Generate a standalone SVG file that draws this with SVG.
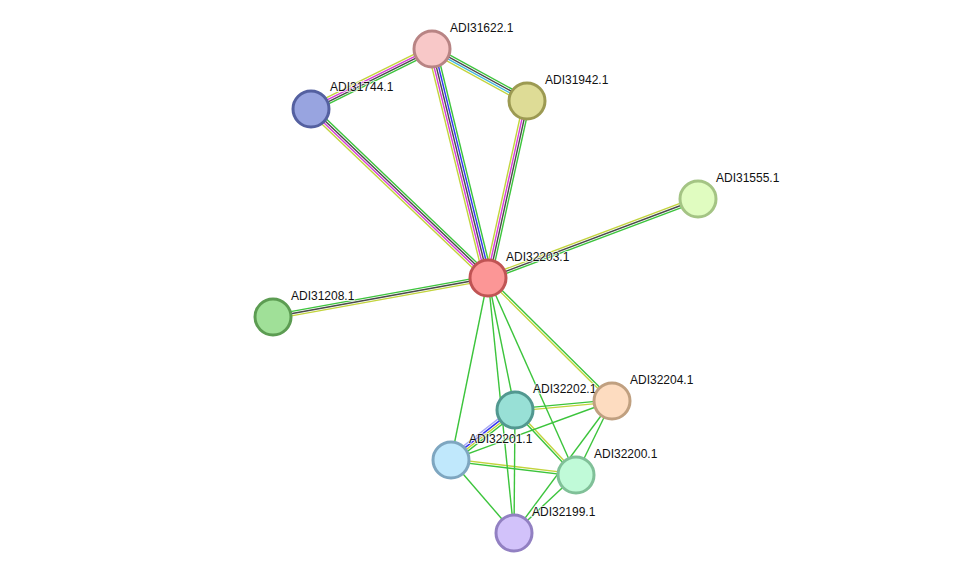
<svg xmlns="http://www.w3.org/2000/svg" width="975" height="579" viewBox="0 0 975 579">
<style>
line{stroke-width:1.4;fill:none}
.g{stroke:#3cc43c}.y{stroke:#c2d43c}.k{stroke:#4a4a4a}.m{stroke:#d63cd6}.b{stroke:#3434f0}.c{stroke:#40b8e0}.l{stroke:#a8a8f4}
circle{stroke-width:3}
text{font-family:"Liberation Sans",Arial,sans-serif;font-size:12px;fill:#111;paint-order:stroke;stroke:#fff;stroke-width:2px;stroke-opacity:0.7}
</style>
<rect width="975" height="579" fill="#fff"/>
<g id="connectors">
 <g transform="translate(488,278) rotate(-103.74)">
  <line class="y" x1="0" y1="-4.4" x2="235.7" y2="-4.4"/>
  <line class="m" x1="0" y1="-2.2" x2="235.7" y2="-2.2"/>
  <line class="k" x1="0" y1="0" x2="235.7" y2="0"/>
  <line class="b" x1="0" y1="2.2" x2="235.7" y2="2.2"/>
  <line class="g" x1="0" y1="4.4" x2="235.7" y2="4.4"/>
 </g>
 <g transform="translate(488,278) rotate(-77.57)">
  <line class="y" x1="0" y1="-3.3" x2="181.2" y2="-3.3"/>
  <line class="m" x1="0" y1="-1.1" x2="181.2" y2="-1.1"/>
  <line class="k" x1="0" y1="1.1" x2="181.2" y2="1.1"/>
  <line class="g" x1="0" y1="3.3" x2="181.2" y2="3.3"/>
 </g>
 <g transform="translate(488,278) rotate(-136.32)">
  <line class="y" x1="0" y1="-3.3" x2="244.7" y2="-3.3"/>
  <line class="m" x1="0" y1="-1.1" x2="244.7" y2="-1.1"/>
  <line class="k" x1="0" y1="1.1" x2="244.7" y2="1.1"/>
  <line class="g" x1="0" y1="3.3" x2="244.7" y2="3.3"/>
 </g>
 <g transform="translate(488,278) rotate(-20.62)">
  <line class="y" x1="0" y1="-2.2" x2="224.4" y2="-2.2"/>
  <line class="k" x1="0" y1="0" x2="224.4" y2="0"/>
  <line class="g" x1="0" y1="2.2" x2="224.4" y2="2.2"/>
 </g>
 <g transform="translate(488,278) rotate(169.72)">
  <line class="y" x1="0" y1="-2.2" x2="218.5" y2="-2.2"/>
  <line class="k" x1="0" y1="0" x2="218.5" y2="0"/>
  <line class="g" x1="0" y1="2.2" x2="218.5" y2="2.2"/>
 </g>
 <g transform="translate(432,49) rotate(153.62)">
  <line class="g" x1="0" y1="-3.3" x2="135.1" y2="-3.3"/>
  <line class="k" x1="0" y1="-1.1" x2="135.1" y2="-1.1"/>
  <line class="m" x1="0" y1="1.1" x2="135.1" y2="1.1"/>
  <line class="y" x1="0" y1="3.3" x2="135.1" y2="3.3"/>
 </g>
 <g transform="translate(432,49) rotate(28.69)">
  <line class="g" x1="0" y1="-3.3" x2="108.3" y2="-3.3"/>
  <line class="k" x1="0" y1="-1.1" x2="108.3" y2="-1.1"/>
  <line class="c" x1="0" y1="1.1" x2="108.3" y2="1.1"/>
  <line class="y" x1="0" y1="3.3" x2="108.3" y2="3.3"/>
 </g>
 <g transform="translate(488,278) rotate(44.77)">
  <line class="g" x1="0" y1="-1.1" x2="174.7" y2="-1.1"/>
  <line class="y" x1="0" y1="1.1" x2="174.7" y2="1.1"/>
 </g>
 <g transform="translate(515,410) rotate(-5.30)">
  <line class="g" x1="0" y1="-1.1" x2="97.4" y2="-1.1"/>
  <line class="y" x1="0" y1="1.1" x2="97.4" y2="1.1"/>
 </g>
 <g transform="translate(515,410) rotate(142.01)">
  <line class="g" x1="0" y1="-3.3" x2="81.2" y2="-3.3"/>
  <line class="y" x1="0" y1="-1.1" x2="81.2" y2="-1.1"/>
  <line class="b" x1="0" y1="1.1" x2="81.2" y2="1.1"/>
  <line class="l" x1="0" y1="3.3" x2="81.2" y2="3.3"/>
 </g>
 <g transform="translate(515,410) rotate(46.82)">
  <line class="y" x1="0" y1="-1.1" x2="89.1" y2="-1.1"/>
  <line class="g" x1="0" y1="1.1" x2="89.1" y2="1.1"/>
 </g>
 <g transform="translate(451,460) rotate(6.84)">
  <line class="y" x1="0" y1="-1.1" x2="125.9" y2="-1.1"/>
  <line class="g" x1="0" y1="1.1" x2="125.9" y2="1.1"/>
 </g>
 <line class="g" x1="488" y1="278" x2="451" y2="460"/>
 <line class="g" x1="488" y1="278" x2="515" y2="410"/>
 <line class="g" x1="488" y1="278" x2="514" y2="533"/>
 <line class="g" x1="488" y1="278" x2="576" y2="475"/>
 <line class="g" x1="515" y1="410" x2="514" y2="533"/>
 <line class="g" x1="451" y1="460" x2="612" y2="401"/>
 <line class="g" x1="451" y1="460" x2="514" y2="533"/>
 <line class="g" x1="612" y1="401" x2="576" y2="475"/>
 <line class="g" x1="612" y1="401" x2="514" y2="533"/>
 <line class="g" x1="576" y1="475" x2="514" y2="533"/>
</g>
<g id="ADI31622.1"><circle cx="432" cy="49" r="18" fill="#f8c8c8" stroke="#b88484"/><text x="450" y="32">ADI31622.1</text></g>
<g id="ADI31744.1"><circle cx="311" cy="109" r="18" fill="#98a4e0" stroke="#5460a0"/><text x="330" y="91">ADI31744.1</text></g>
<g id="ADI31942.1"><circle cx="527" cy="101" r="18" fill="#dedc96" stroke="#9c9a52"/><text x="545" y="84">ADI31942.1</text></g>
<g id="ADI31555.1"><circle cx="698" cy="199" r="18" fill="#e0fcc0" stroke="#a4c484"/><text x="716" y="182">ADI31555.1</text></g>
<g id="ADI32203.1"><circle cx="488" cy="278" r="18" fill="#fc9696" stroke="#c05454"/><text x="506" y="261">ADI32203.1</text></g>
<g id="ADI31208.1"><circle cx="273" cy="317" r="18" fill="#a0e098" stroke="#5c9c52"/><text x="291" y="300">ADI31208.1</text></g>
<g id="ADI32202.1"><circle cx="515" cy="410" r="18" fill="#98e0d6" stroke="#529890"/><text x="533" y="393">ADI32202.1</text></g>
<g id="ADI32204.1"><circle cx="612" cy="401" r="18" fill="#fddcc0" stroke="#c0a080"/><text x="630" y="384">ADI32204.1</text></g>
<g id="ADI32201.1"><circle cx="451" cy="460" r="18" fill="#c0e8fc" stroke="#7ea6c0"/><text x="469" y="443">ADI32201.1</text></g>
<g id="ADI32200.1"><circle cx="576" cy="475" r="18" fill="#c0fad8" stroke="#80c098"/><text x="594" y="458">ADI32200.1</text></g>
<g id="ADI32199.1"><circle cx="514" cy="533" r="18" fill="#d2c2fa" stroke="#9280c2"/><text x="532" y="516">ADI32199.1</text></g>
</svg>
